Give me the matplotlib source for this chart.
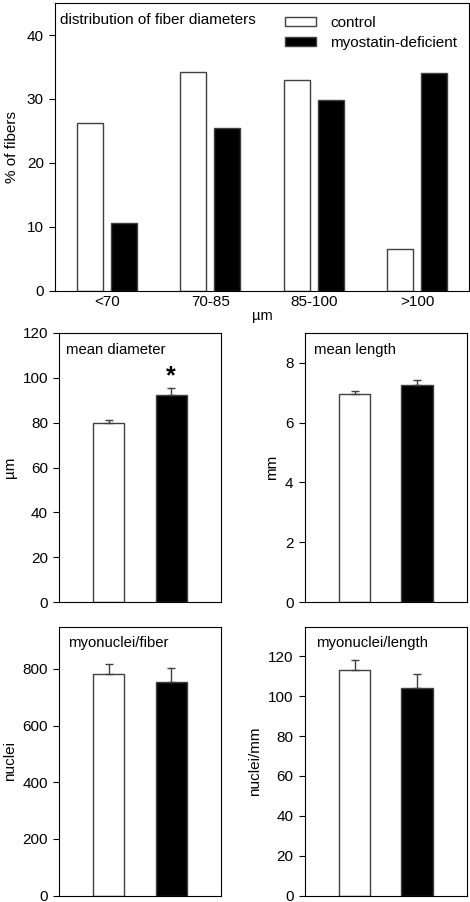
import matplotlib
matplotlib.use("Agg")
import matplotlib.pyplot as plt
import numpy as np
from matplotlib.patches import Patch

plt.rcParams['font.family'] = ['Liberation Sans', 'DejaVu Sans']

# distribution of fiber diameters (% of fibers)
bins = ["<70", "70-85", "85-100", ">100"]
dist_control = [26.3, 34.2, 32.9, 6.6]
dist_mstn = [10.6, 25.5, 29.8, 34.0]

# summary panels: means and upper error bars (control, myostatin-deficient)
diam_mean = [79.8, 92.4]
diam_err = [1.6, 3.0]
len_mean = [6.95, 7.26]
len_err = [0.1, 0.17]
nuc_fiber_mean = [781, 755]
nuc_fiber_err = [37, 50]
nuc_len_mean = [113, 104]
nuc_len_err = [5, 7]

edge = "#404040"
fig = plt.figure(figsize=(4.7, 9.02), dpi=100)

# top panel
ax = fig.add_axes([55/470, 1-291/902, 414/470, 288/902])
x = np.arange(len(bins))
ax.bar(x - 0.165, dist_control, 0.25, color="white", edgecolor=edge, linewidth=1)
ax.bar(x + 0.165, dist_mstn, 0.25, color="black", edgecolor=edge, linewidth=1)
ax.set_xlim(-0.5, 3.5)
ax.set_ylim(0, 45)
ax.set_yticks([0, 10, 20, 30, 40])
ax.set_xticks(x)
ax.set_xticklabels(bins)
ax.tick_params(axis="x", length=0, labelsize=11, pad=3)
ax.tick_params(axis="y", length=4, labelsize=11, pad=4)
ax.set_xlabel("µm", fontsize=10.5, labelpad=0)
ax.set_ylabel("% of fibers", fontsize=11, labelpad=6)
ax.text(0.012, 0.942, "distribution of fiber diameters", transform=ax.transAxes,
        fontsize=11, va="center")
handles = [Patch(facecolor="white", edgecolor=edge), Patch(facecolor="black", edgecolor=edge)]
ax.legend(handles, ["control", "myostatin-deficient"], loc="upper left",
          bbox_to_anchor=(0.5556, 0.954), frameon=False, fontsize=11,
          handlelength=2.0, handleheight=0.52, handletextpad=0.95,
          labelspacing=0.4, borderaxespad=0, borderpad=0)


def small_panel(rect, title, tx, ylabel, ylim, yticks, means, errs, star=None):
    a = fig.add_axes(rect)
    a.bar([0, 1], means, 0.5, color=["white", "black"], edgecolor=edge, linewidth=1)
    a.errorbar([0, 1], means, yerr=[[0, 0], errs], fmt="none", ecolor=edge,
               elinewidth=1, capsize=3, capthick=1)
    a.set_xlim(-0.8, 1.8)
    a.set_ylim(*ylim)
    a.set_yticks(yticks)
    a.set_xticks([])
    a.tick_params(axis="y", length=4, labelsize=11, pad=4)
    a.set_ylabel(ylabel, fontsize=11)
    a.text(tx, 0.938, title, transform=a.transAxes, fontsize=10.7, va="center")
    if star is not None:
        a.text(1, star, "*", ha="center", va="center", fontsize=18, fontweight="bold")
    return a


h = 269/902
small_panel([59/470, 1-602/902, 162/470, h], "mean diameter", 0.045, "µm", (0, 120),
            range(0, 121, 20), diam_mean, diam_err, star=100.5)
small_panel([304.7/470, 1-602/902, 162.3/470, h], "mean length", 0.057, "mm", (0, 9),
            range(0, 9, 2), len_mean, len_err)
small_panel([59/470, 1-895.5/902, 162/470, h], "myonuclei/fiber", 0.056, "nuclei", (0, 950),
            range(0, 801, 200), nuc_fiber_mean, nuc_fiber_err)
small_panel([304.7/470, 1-895.5/902, 162.3/470, h], "myonuclei/length", 0.07, "nuclei/mm",
            (0, 135), range(0, 121, 20), nuc_len_mean, nuc_len_err)

fig.savefig("out.png", dpi=100)
